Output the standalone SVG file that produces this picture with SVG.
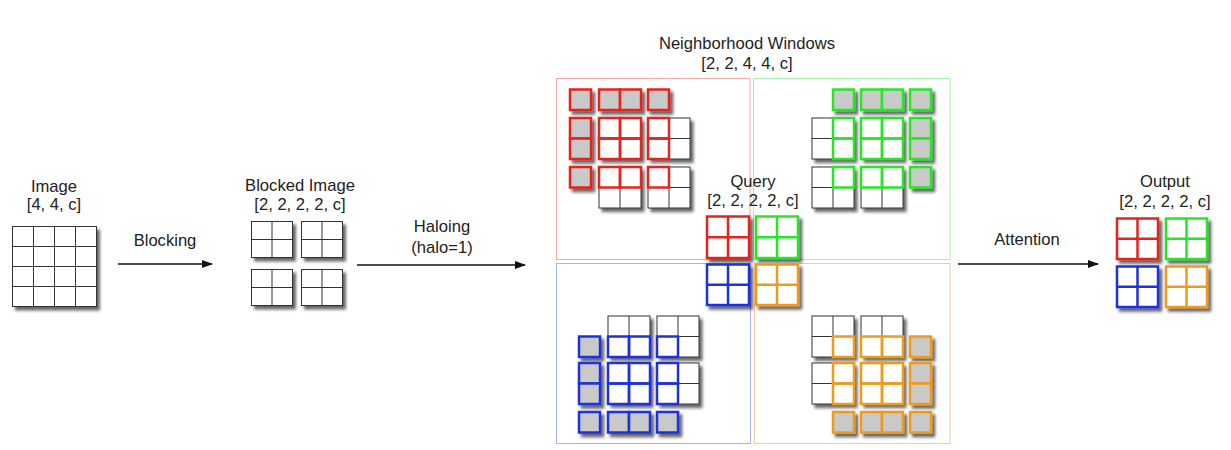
<svg xmlns="http://www.w3.org/2000/svg" width="1231" height="450" viewBox="0 0 1231 450">
<style>
.t{font-family:"Liberation Sans",Arial,sans-serif;font-size:16.6px;fill:#222;text-anchor:middle}
.k{fill:#fff;stroke:#333;stroke-width:1}
.kl{fill:none;stroke:#333;stroke-width:1}
.r{fill:none;stroke:#e6231d;stroke-width:2.5}
.g{fill:none;stroke:#26e626;stroke-width:2.5}
.b{fill:none;stroke:#1e30e0;stroke-width:2.5}
.o{fill:none;stroke:#f09a1c;stroke-width:2.5}
.rg{fill:#c9c9c9;stroke:#e6231d;stroke-width:2.5}
.gg{fill:#c9c9c9;stroke:#26e626;stroke-width:2.5}
.bg{fill:#c9c9c9;stroke:#1e30e0;stroke-width:2.5}
.og{fill:#c9c9c9;stroke:#f09a1c;stroke-width:2.5}
.rw{fill:#fff;stroke:#e6231d;stroke-width:2.5}
.gw{fill:#fff;stroke:#26e626;stroke-width:2.5}
.bw{fill:#fff;stroke:#1e30e0;stroke-width:2.5}
.ow{fill:#fff;stroke:#f09a1c;stroke-width:2.5}
.arr{stroke:#111;stroke-width:1.5;fill:none}
</style>
<defs>
<filter id="sh" x="-20%" y="-20%" width="160%" height="160%">
<feDropShadow dx="3" dy="3.5" stdDeviation="1.6" flood-color="#000" flood-opacity="0.6"/>
</filter>
<marker id="ah" markerWidth="11" markerHeight="8" refX="10" refY="4" orient="auto" markerUnits="userSpaceOnUse">
<path d="M0,0 L11,4 L0,8 z" fill="#111"/>
</marker>
</defs>
<rect width="1231" height="450" fill="#fff"/>

<g id="connectors">
<line class="arr" x1="118" y1="264" x2="212" y2="264" marker-end="url(#ah)"/>
<line class="arr" x1="357" y1="265" x2="525" y2="265" marker-end="url(#ah)"/>
<line class="arr" x1="958" y1="264" x2="1098" y2="264" marker-end="url(#ah)"/>
<text class="t" x="165" y="246">Blocking</text>
<text class="t" x="442" y="232">Haloing</text>
<text class="t" x="442" y="253">(halo=1)</text>
<text class="t" x="1027" y="245">Attention</text>
</g>

<g id="image">
<text class="t" x="54" y="192">Image</text>
<text class="t" x="54" y="210">[4, 4, c]</text>
<g filter="url(#sh)">
<rect class="k" x="12.5" y="226.5" width="84" height="80"/>
<path class="kl" d="M33.5 226.5v80M54.5 226.5v80M75.5 226.5v80M12.5 246.5h84M12.5 266.5h84M12.5 286.5h84"/>
</g>
</g>

<g id="blocked-image">
<text class="t" x="300" y="191">Blocked Image</text>
<text class="t" x="300" y="210">[2, 2, 2, 2, c]</text>
<g filter="url(#sh)">
<rect class="k" x="251.5" y="221.5" width="41" height="36"/><path class="kl" d="M272 221.5v36M251.5 239.5h41"/>
<rect class="k" x="301.5" y="221.5" width="41" height="36"/><path class="kl" d="M322 221.5v36M301.5 239.5h41"/>
<rect class="k" x="251.5" y="269.5" width="41" height="36"/><path class="kl" d="M272 269.5v36M251.5 287.5h41"/>
<rect class="k" x="301.5" y="269.5" width="41" height="36"/><path class="kl" d="M322 269.5v36M301.5 287.5h41"/>
</g>
</g>

<g id="neighborhood-title">
<text class="t" x="747" y="49">Neighborhood Windows</text>
<text class="t" x="747" y="69">[2, 2, 4, 4, c]</text>
</g>

<g id="window-red">
<rect x="556.5" y="78.5" width="193.5" height="181" fill="none" stroke="#f2a9a9" stroke-width="1"/>
<g filter="url(#sh)">
<rect class="k" x="599" y="118" width="42" height="41"/><path class="kl" d="M620 118v41M599 138.5h42"/>
<rect class="k" x="648" y="118" width="42" height="41"/><path class="kl" d="M669 118v41M648 138.5h42"/>
<rect class="k" x="599" y="167" width="42" height="41"/><path class="kl" d="M620 167v41M599 187.5h42"/>
<rect class="k" x="648" y="167" width="42" height="41"/><path class="kl" d="M669 167v41M648 187.5h42"/>
</g>
<g filter="url(#sh)">
<rect class="rg" x="570" y="89.5" width="21" height="20.5"/>
<rect class="rg" x="599" y="89.5" width="21" height="20.5"/>
<rect class="rg" x="620" y="89.5" width="21" height="20.5"/>
<rect class="rg" x="648" y="89.5" width="21" height="20.5"/>
<rect class="rg" x="570" y="118" width="21" height="20.5"/>
<rect class="rg" x="570" y="138.5" width="21" height="20.5"/>
<rect class="rg" x="570" y="167" width="21" height="20.5"/>
</g>
<rect class="r" x="599" y="118" width="21" height="20.5"/>
<rect class="r" x="620" y="118" width="21" height="20.5"/>
<rect class="r" x="599" y="138.5" width="21" height="20.5"/>
<rect class="r" x="620" y="138.5" width="21" height="20.5"/>
<rect class="r" x="648" y="118" width="21" height="20.5"/>
<rect class="r" x="648" y="138.5" width="21" height="20.5"/>
<rect class="r" x="599" y="167" width="21" height="20.5"/>
<rect class="r" x="620" y="167" width="21" height="20.5"/>
<rect class="r" x="648" y="167" width="21" height="20.5"/>
</g>

<g id="window-green">
<rect x="753.5" y="78.5" width="196.5" height="181" fill="none" stroke="#a9eea9" stroke-width="1"/>
<g filter="url(#sh)">
<rect class="k" x="812" y="118" width="42" height="41"/><path class="kl" d="M833 118v41M812 138.5h42"/>
<rect class="k" x="861" y="118" width="42" height="41"/><path class="kl" d="M882 118v41M861 138.5h42"/>
<rect class="k" x="812" y="167" width="42" height="41"/><path class="kl" d="M833 167v41M812 187.5h42"/>
<rect class="k" x="861" y="167" width="42" height="41"/><path class="kl" d="M882 167v41M861 187.5h42"/>
</g>
<g filter="url(#sh)">
<rect class="gg" x="833" y="89.5" width="21" height="20.5"/>
<rect class="gg" x="861" y="89.5" width="21" height="20.5"/>
<rect class="gg" x="882" y="89.5" width="21" height="20.5"/>
<rect class="gg" x="910" y="89.5" width="21" height="20.5"/>
<rect class="gg" x="910" y="118" width="21" height="20.5"/>
<rect class="gg" x="910" y="138.5" width="21" height="20.5"/>
<rect class="gg" x="910" y="167" width="21" height="20.5"/>
</g>
<rect class="g" x="833" y="118" width="21" height="20.5"/>
<rect class="g" x="833" y="138.5" width="21" height="20.5"/>
<rect class="g" x="861" y="118" width="21" height="20.5"/>
<rect class="g" x="882" y="118" width="21" height="20.5"/>
<rect class="g" x="861" y="138.5" width="21" height="20.5"/>
<rect class="g" x="882" y="138.5" width="21" height="20.5"/>
<rect class="g" x="833" y="167" width="21" height="20.5"/>
<rect class="g" x="861" y="167" width="21" height="20.5"/>
<rect class="g" x="882" y="167" width="21" height="20.5"/>
</g>

<g id="window-blue">
<rect x="556.5" y="263.5" width="194" height="180" fill="none" stroke="#aab3ef" stroke-width="1"/>
<g filter="url(#sh)">
<rect class="k" x="608" y="316" width="42" height="41"/><path class="kl" d="M629 316v41M608 336.5h42"/>
<rect class="k" x="657" y="316" width="42" height="41"/><path class="kl" d="M678 316v41M657 336.5h42"/>
<rect class="k" x="608" y="363" width="42" height="41"/><path class="kl" d="M629 363v41M608 383.5h42"/>
<rect class="k" x="657" y="363" width="42" height="41"/><path class="kl" d="M678 363v41M657 383.5h42"/>
</g>
<g filter="url(#sh)">
<rect class="bg" x="579" y="336.5" width="21" height="20.5"/>
<rect class="bg" x="579" y="363" width="21" height="20.5"/>
<rect class="bg" x="579" y="383.5" width="21" height="20.5"/>
<rect class="bg" x="579" y="412" width="21" height="20.5"/>
<rect class="bg" x="608" y="412" width="21" height="20.5"/>
<rect class="bg" x="629" y="412" width="21" height="20.5"/>
<rect class="bg" x="657" y="412" width="21" height="20.5"/>
</g>
<rect class="b" x="608" y="336.5" width="21" height="20.5"/>
<rect class="b" x="629" y="336.5" width="21" height="20.5"/>
<rect class="b" x="657" y="336.5" width="21" height="20.5"/>
<rect class="b" x="608" y="363" width="21" height="20.5"/>
<rect class="b" x="629" y="363" width="21" height="20.5"/>
<rect class="b" x="608" y="383.5" width="21" height="20.5"/>
<rect class="b" x="629" y="383.5" width="21" height="20.5"/>
<rect class="b" x="657" y="363" width="21" height="20.5"/>
<rect class="b" x="657" y="383.5" width="21" height="20.5"/>
</g>

<g id="window-orange">
<rect x="754.5" y="263.5" width="195.5" height="180" fill="none" stroke="#f5c9a0" stroke-width="1"/>
<g filter="url(#sh)">
<rect class="k" x="812" y="316" width="42" height="41"/><path class="kl" d="M833 316v41M812 336.5h42"/>
<rect class="k" x="861" y="316" width="42" height="41"/><path class="kl" d="M882 316v41M861 336.5h42"/>
<rect class="k" x="812" y="363" width="42" height="41"/><path class="kl" d="M833 363v41M812 383.5h42"/>
<rect class="k" x="861" y="363" width="42" height="41"/><path class="kl" d="M882 363v41M861 383.5h42"/>
</g>
<g filter="url(#sh)">
<rect class="og" x="910" y="336.5" width="21" height="20.5"/>
<rect class="og" x="910" y="363" width="21" height="20.5"/>
<rect class="og" x="910" y="383.5" width="21" height="20.5"/>
<rect class="og" x="833" y="412" width="21" height="20.5"/>
<rect class="og" x="861" y="412" width="21" height="20.5"/>
<rect class="og" x="882" y="412" width="21" height="20.5"/>
<rect class="og" x="910" y="412" width="21" height="20.5"/>
</g>
<rect class="o" x="833" y="336.5" width="21" height="20.5"/>
<rect class="o" x="861" y="336.5" width="21" height="20.5"/>
<rect class="o" x="882" y="336.5" width="21" height="20.5"/>
<rect class="o" x="833" y="363" width="21" height="20.5"/>
<rect class="o" x="833" y="383.5" width="21" height="20.5"/>
<rect class="o" x="861" y="363" width="21" height="20.5"/>
<rect class="o" x="882" y="363" width="21" height="20.5"/>
<rect class="o" x="861" y="383.5" width="21" height="20.5"/>
<rect class="o" x="882" y="383.5" width="21" height="20.5"/>
</g>

<g id="query">
<text class="t" x="753" y="187">Query</text>
<text class="t" x="753" y="206">[2, 2, 2, 2, c]</text>
<g filter="url(#sh)">
<rect class="rw" x="707" y="216.5" width="42" height="41.5"/><path class="r" d="M728 216.5v41.5M707 237.25h42"/>
<rect class="gw" x="756" y="216.5" width="42" height="41.5"/><path class="g" d="M777 216.5v41.5M756 237.25h42"/>
<rect class="bw" x="707" y="264.5" width="42" height="40.5"/><path class="b" d="M728 264.5v40.5M707 284.75h42"/>
<rect class="ow" x="756" y="264.5" width="42" height="40.5"/><path class="o" d="M777 264.5v40.5M756 284.75h42"/>
</g>
</g>

<g id="output">
<text class="t" x="1165" y="187">Output</text>
<text class="t" x="1165" y="207">[2, 2, 2, 2, c]</text>
<g filter="url(#sh)">
<rect class="rw" x="1117" y="218.5" width="41" height="40.5"/><path class="r" d="M1137.5 218.5v40.5M1117 238.75h41"/>
<rect class="gw" x="1166" y="218.5" width="41" height="40.5"/><path class="g" d="M1186.5 218.5v40.5M1166 238.75h41"/>
<rect class="bw" x="1117" y="266.5" width="41" height="40.5"/><path class="b" d="M1137.5 266.5v40.5M1117 286.75h41"/>
<rect class="ow" x="1166" y="266.5" width="41" height="40.5"/><path class="o" d="M1186.5 266.5v40.5M1166 286.75h41"/>
</g>
</g>
</svg>
